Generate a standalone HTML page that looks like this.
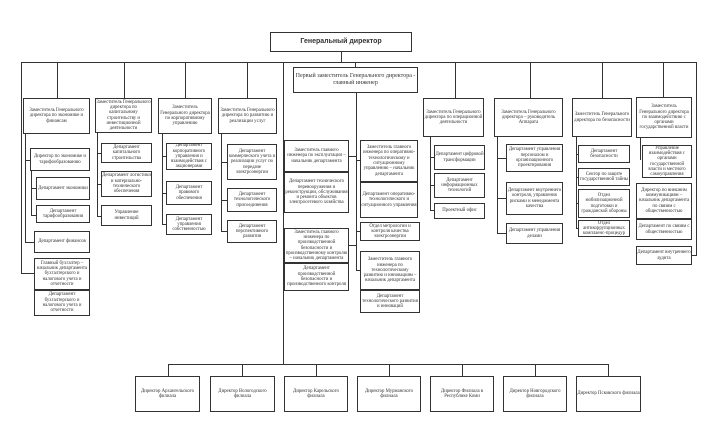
<!DOCTYPE html>
<html><head><meta charset="utf-8"><style>
body{margin:0;width:710px;height:447px;background:#fff;position:relative;overflow:hidden}
.b{position:absolute;box-sizing:border-box;border:1px solid #333;background:#fff;display:flex;align-items:center;justify-content:center;text-align:center;font-family:"Liberation Serif",serif;font-size:4.8px;line-height:5.3px;color:#333;padding:0;overflow:hidden}
.t{border-width:1.4px}
.l{position:absolute;background:#333}
</style></head><body>
<div class="l" style="left:341px;top:52px;width:1px;height:10px"></div>
<div class="l" style="left:21px;top:62px;width:676px;height:1px"></div>
<div class="l" style="left:21px;top:62px;width:1px;height:212px"></div>
<div class="l" style="left:21px;top:273px;width:13px;height:1px"></div>
<div class="l" style="left:696px;top:62px;width:1px;height:194px"></div>
<div class="l" style="left:692px;top:255px;width:5px;height:1px"></div>
<div class="l" style="left:57px;top:62px;width:1px;height:36px"></div>
<div class="l" style="left:124px;top:62px;width:1px;height:36px"></div>
<div class="l" style="left:185px;top:62px;width:1px;height:36px"></div>
<div class="l" style="left:247px;top:62px;width:1px;height:36px"></div>
<div class="l" style="left:455px;top:62px;width:1px;height:36px"></div>
<div class="l" style="left:530px;top:62px;width:1px;height:36px"></div>
<div class="l" style="left:602px;top:62px;width:1px;height:36px"></div>
<div class="l" style="left:663px;top:62px;width:1px;height:36px"></div>
<div class="l" style="left:283px;top:62px;width:1px;height:302px"></div>
<div class="l" style="left:355px;top:62px;width:1px;height:5px"></div>
<div class="l" style="left:25px;top:134px;width:1px;height:108px"></div>
<div class="l" style="left:25px;top:160px;width:5px;height:1px"></div>
<div class="l" style="left:25px;top:242px;width:9px;height:1px"></div>
<div class="l" style="left:31px;top:171px;width:1px;height:45px"></div>
<div class="l" style="left:31px;top:188px;width:5px;height:1px"></div>
<div class="l" style="left:31px;top:215px;width:5px;height:1px"></div>
<div class="l" style="left:97px;top:133px;width:1px;height:84px"></div>
<div class="l" style="left:97px;top:153px;width:4px;height:1px"></div>
<div class="l" style="left:97px;top:184px;width:4px;height:1px"></div>
<div class="l" style="left:97px;top:216px;width:4px;height:1px"></div>
<div class="l" style="left:162px;top:134px;width:1px;height:91px"></div>
<div class="l" style="left:162px;top:156px;width:4px;height:1px"></div>
<div class="l" style="left:162px;top:193px;width:4px;height:1px"></div>
<div class="l" style="left:162px;top:224px;width:4px;height:1px"></div>
<div class="l" style="left:221px;top:134px;width:1px;height:98px"></div>
<div class="l" style="left:221px;top:162px;width:6px;height:1px"></div>
<div class="l" style="left:221px;top:200px;width:6px;height:1px"></div>
<div class="l" style="left:221px;top:231px;width:6px;height:1px"></div>
<div class="l" style="left:356px;top:93px;width:1px;height:178px"></div>
<div class="l" style="left:349px;top:156px;width:7px;height:1px"></div>
<div class="l" style="left:349px;top:245px;width:7px;height:1px"></div>
<div class="l" style="left:356px;top:160px;width:4px;height:1px"></div>
<div class="l" style="left:356px;top:231px;width:4px;height:1px"></div>
<div class="l" style="left:356px;top:270px;width:4px;height:1px"></div>
<div class="l" style="left:430px;top:137px;width:1px;height:74px"></div>
<div class="l" style="left:430px;top:157px;width:4px;height:1px"></div>
<div class="l" style="left:430px;top:185px;width:4px;height:1px"></div>
<div class="l" style="left:430px;top:210px;width:4px;height:1px"></div>
<div class="l" style="left:497px;top:137px;width:1px;height:97px"></div>
<div class="l" style="left:497px;top:158px;width:9px;height:1px"></div>
<div class="l" style="left:497px;top:198px;width:9px;height:1px"></div>
<div class="l" style="left:497px;top:233px;width:9px;height:1px"></div>
<div class="l" style="left:576px;top:137px;width:1px;height:92px"></div>
<div class="l" style="left:576px;top:154px;width:2px;height:1px"></div>
<div class="l" style="left:576px;top:177px;width:2px;height:1px"></div>
<div class="l" style="left:576px;top:203px;width:2px;height:1px"></div>
<div class="l" style="left:576px;top:228px;width:2px;height:1px"></div>
<div class="l" style="left:640px;top:138px;width:1px;height:22px"></div>
<div class="l" style="left:168px;top:364px;width:441px;height:1px"></div>
<div class="l" style="left:168px;top:364px;width:1px;height:12px"></div>
<div class="l" style="left:242px;top:364px;width:1px;height:12px"></div>
<div class="l" style="left:316px;top:364px;width:1px;height:12px"></div>
<div class="l" style="left:389px;top:364px;width:1px;height:12px"></div>
<div class="l" style="left:462px;top:364px;width:1px;height:12px"></div>
<div class="l" style="left:535px;top:364px;width:1px;height:12px"></div>
<div class="l" style="left:608px;top:364px;width:1px;height:12px"></div>

<div class="b t" style="left:270px;top:32px;width:142px;height:20px;font-size:7px;line-height:8px;font-weight:bold;font-family:'Liberation Sans',sans-serif">Генеральный директор</div>

<div class="b" style="left:23px;top:98px;width:67px;height:36px">Заместитель Генерального директора по экономике и финансам</div>
<div class="b" style="left:30px;top:148px;width:60px;height:23px">Директор по экономике и тарифообразованию</div>
<div class="b" style="left:36px;top:177px;width:54px;height:23px">Департамент экономики</div>
<div class="b" style="left:36px;top:205px;width:54px;height:18px">Департамент тарифообразования</div>
<div class="b" style="left:34px;top:231px;width:56px;height:22px">Департамент финансов</div>
<div class="b" style="left:34px;top:258px;width:56px;height:32px">Главный бухгалтер – начальник департамента бухгалтерского и налогового учета и отчетности</div>
<div class="b" style="left:34px;top:290px;width:56px;height:26px">Департамент бухгалтерского и налогового учета и отчетности</div>

<div class="b" style="left:95px;top:98px;width:57px;height:35px">Заместитель Генерального директора по капитальному строительству и инвестиционной деятельности</div>
<div class="b" style="left:101px;top:143px;width:51px;height:20px">Департамент капитального строительства</div>
<div class="b" style="left:101px;top:171px;width:51px;height:26px">Департамент логистики и материально-технического обеспечения</div>
<div class="b" style="left:101px;top:205px;width:51px;height:21px">Управление инвестиций</div>

<div class="b" style="left:158px;top:98px;width:54px;height:36px">Заместитель Генерального директора по корпоративному управлению</div>
<div class="b" style="left:166px;top:143px;width:46px;height:27px">Департамент корпоративного управления и взаимодействия с акционерами</div>
<div class="b" style="left:166px;top:181px;width:46px;height:24px">Департамент правового обеспечения</div>
<div class="b" style="left:166px;top:214px;width:46px;height:21px">Департамент управления собственностью</div>

<div class="b" style="left:218px;top:98px;width:59px;height:36px">Заместитель Генерального директора по развитию и реализации услуг</div>
<div class="b" style="left:227px;top:144px;width:50px;height:36px">Департамент коммерческого учета и реализации услуг по передаче электроэнергии</div>
<div class="b" style="left:227px;top:188px;width:50px;height:24px">Департамент технологического присоединения</div>
<div class="b" style="left:227px;top:220px;width:50px;height:23px">Департамент перспективного развития</div>

<div class="b t" style="left:293px;top:67px;width:125px;height:26px;font-size:6px;line-height:6.6px">Первый заместитель Генерального директора -<br>главный инженер</div>
<div class="b" style="left:284px;top:140px;width:65px;height:32px">Заместитель главного инженера по эксплуатации – начальник департамента</div>
<div class="b" style="left:284px;top:172px;width:65px;height:41px">Департамент технического перевооружения и реконструкции, обслуживания и ремонта объектов электросетевого хозяйства</div>
<div class="b" style="left:284px;top:228px;width:65px;height:35px">Заместитель главного инженера по производственной безопасности и производственному контролю – начальник департамента</div>
<div class="b" style="left:284px;top:263px;width:65px;height:28px">Департамент производственной безопасности и производственного контроля</div>
<div class="b" style="left:360px;top:140px;width:58px;height:42px">Заместитель главного инженера по оперативно-технологическому и ситуационному управлению – начальник департамента</div>
<div class="b" style="left:360px;top:182px;width:58px;height:36px">Департамент оперативно-технологического и ситуационного управления</div>
<div class="b" style="left:360px;top:222px;width:60px;height:19px">Отдел метрологии и контроля качества электроэнергии</div>
<div class="b" style="left:360px;top:251px;width:60px;height:39px">Заместитель главного инженера по технологическому развитию и инновациям – начальник департамента</div>
<div class="b" style="left:360px;top:290px;width:60px;height:23px">Департамент технологического развития и инноваций</div>

<div class="b" style="left:423px;top:98px;width:61px;height:39px">Заместитель Генерального директора по операционной деятельности</div>
<div class="b" style="left:434px;top:145px;width:51px;height:25px">Департамент цифровой трансформации</div>
<div class="b" style="left:434px;top:173px;width:51px;height:25px">Департамент информационных технологий</div>
<div class="b" style="left:434px;top:203px;width:51px;height:16px">Проектный офис</div>

<div class="b" style="left:494px;top:98px;width:69px;height:39px">Заместитель Генерального директора – руководитель Аппарата</div>
<div class="b" style="left:506px;top:144px;width:57px;height:28px">Департамент управления персоналом и организационного проектирования</div>
<div class="b" style="left:506px;top:182px;width:57px;height:33px">Департамент внутреннего контроля, управления рисками и менеджмента качества</div>
<div class="b" style="left:506px;top:223px;width:57px;height:21px">Департамент управления делами</div>

<div class="b" style="left:572px;top:98px;width:60px;height:39px">Заместитель Генерального директора по безопасности</div>
<div class="b" style="left:578px;top:145px;width:52px;height:18px">Департамент безопасности</div>
<div class="b" style="left:578px;top:168px;width:52px;height:18px">Сектор по защите государственной тайны</div>
<div class="b" style="left:578px;top:189px;width:52px;height:29px">Отдел мобилизационной подготовки и гражданской обороны</div>
<div class="b" style="left:578px;top:220px;width:52px;height:17px">Отдел антикоррупционных комплаенс-процедур</div>

<div class="b" style="left:636px;top:97px;width:56px;height:41px">Заместитель Генерального директора по взаимодействию с органами государственной власти</div>
<div class="b" style="left:642px;top:145px;width:50px;height:33px">Управление взаимодействия с органами государственной власти и местного самоуправления</div>
<div class="b" style="left:636px;top:183px;width:56px;height:36px">Директор по внешним коммуникациям – начальник департамента по связям с общественностью</div>
<div class="b" style="left:636px;top:219px;width:56px;height:21px">Департамент по связям с общественностью</div>
<div class="b" style="left:636px;top:246px;width:56px;height:19px">Департамент внутреннего аудита</div>

<div class="b" style="left:135px;top:376px;width:65px;height:36px">Директор Архангельского филиала</div>
<div class="b" style="left:210px;top:376px;width:65px;height:36px">Директор Вологодского филиала</div>
<div class="b" style="left:284px;top:376px;width:64px;height:36px">Директор Карельского филиала</div>
<div class="b" style="left:357px;top:376px;width:64px;height:36px">Директор Мурманского филиала</div>
<div class="b" style="left:430px;top:376px;width:64px;height:36px">Директор Филиала в Республике Коми</div>
<div class="b" style="left:503px;top:376px;width:64px;height:36px">Директор Новгородского филиала</div>
<div class="b" style="left:576px;top:376px;width:65px;height:36px">Директор Псковского филиала</div>
</body></html>
